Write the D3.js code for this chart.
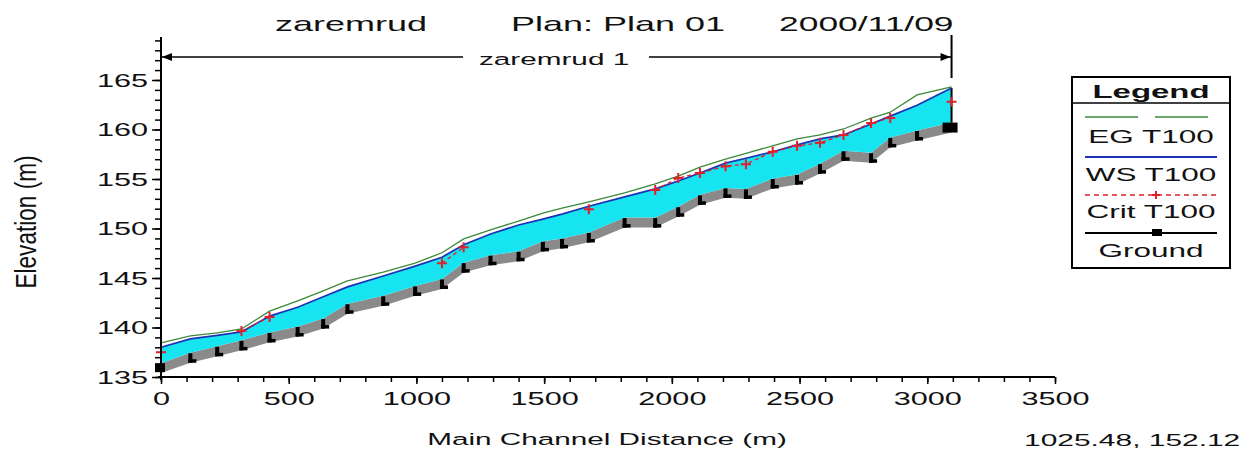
<!DOCTYPE html>
<html><head><meta charset="utf-8">
<script src="https://cdn.jsdelivr.net/npm/d3@7"></script>
<style>html,body{margin:0;padding:0;background:#fff;} svg{display:block;background:#fff;}</style>
</head><body>
<svg id="chart" width="1252" height="451"></svg>
<script>
// ---------- data ----------
const stations = [0,115,220,315,425,535,635,730,870,995,1100,1185,1290,1400,1495,1570,1675,1815,1935,2025,2110,2210,2290,2395,2490,2580,2672,2780,2855,2960,3095];
const ground   = [136.4,137.45,138.1,138.7,139.5,140.1,140.9,142.4,143.2,144.2,144.9,146.55,147.3,147.7,148.7,149.0,149.6,151.1,151.1,152.2,153.4,154.1,154.0,155.05,155.45,156.55,157.85,157.65,159.2,159.9,160.7];
const wsT100   = [138.0,138.85,139.2,139.55,141.15,142.05,143.1,144.1,145.2,146.2,147.1,148.35,149.45,150.35,150.95,151.45,152.25,153.2,154.0,154.8,155.6,156.6,157.1,157.75,158.45,159.05,159.45,160.55,161.35,162.45,164.2];
const egT100   = [138.45,139.15,139.45,139.85,141.65,142.7,143.7,144.7,145.6,146.5,147.55,148.95,149.85,150.75,151.55,152.05,152.7,153.6,154.5,155.3,156.2,157.0,157.6,158.35,159.05,159.45,160.05,161.15,161.75,163.5,164.3];
const critT100 = [137.5,null,null,139.65,141.05,null,null,null,null,null,146.5,148.1,null,null,null,null,151.95,null,153.9,155.1,155.6,156.3,156.5,157.75,158.35,158.65,159.45,160.65,161.15,null,162.8];

const xTickValues = [0,500,1000,1500,2000,2500,3000,3500];
const yTickValues = [135,140,145,150,155,160,165];
const titleParts = ["zaremrud", "Plan: Plan 01", "2000/11/09"];
const reachName = "zaremrud 1";
const legendTitle = "Legend";
const legendLabels = ["EG  T100", "WS  T100", "Crit  T100", "Ground"];
const xLabel = "Main Channel Distance (m)";
const yLabel = "Elevation (m)";
const cursorReadout = "1025.48, 152.12";

// ---------- setup ----------
const svg = d3.select("#chart");
const FONT = "'Liberation Sans', Arial, Helvetica, sans-serif";
const x = d3.scaleLinear().domain([0, 3500]).range([161, 1055]);
const y = d3.scaleLinear().domain([135, 165]).range([377, 80]);
const yTop = 37;

const COL = { water: "#16e4f0", band: "#8a8a8a", eg: "#3a8a3a", ws: "#1c34b4", crit: "#e0202a" };

function stext(parent, str, px, py, o = {}) {
  return parent.append("text")
    .attr("transform", `translate(${px},${py}) scale(${o.sx || 1.8},${o.sy || 1})`)
    .attr("text-anchor", o.anchor || "start")
    .attr("font-family", FONT)
    .attr("font-size", o.size || 17)
    .attr("font-weight", o.weight || "normal")
    .attr("fill", "#111")
    .text(str);
}

const data = stations.map((s, i) => ({ s, g: ground[i], ws: wsT100[i], eg: egT100[i], c: critT100[i] }));

// ---------- plot marks ----------
const plot = svg.append("g");

// gray ground band
plot.append("path").datum(data)
  .attr("d", d3.area().x(d => x(d.s)).y0(d => y(d.g - 1.0)).y1(d => y(d.g)))
  .attr("fill", COL.band);

// water
plot.append("path").datum(data)
  .attr("d", d3.area().x(d => x(d.s)).y0(d => y(d.g)).y1(d => y(d.ws)))
  .attr("fill", COL.water);

// ground station marks ("L" shapes)
const inner = data.slice(1, -1);
plot.selectAll("rect.gm1").data(inner).join("rect")
  .attr("x", d => x(d.s) - 2).attr("y", d => y(d.g) + 0.5)
  .attr("width", 4).attr("height", 9.5).attr("fill", "#000");
plot.selectAll("rect.gm2").data(inner).join("rect")
  .attr("x", d => x(d.s) - 2).attr("y", d => y(d.g) + 6.5)
  .attr("width", 8).attr("height", 3.5).attr("fill", "#000");

// end squares
const first = data[0], last = data[data.length - 1];
plot.append("rect").attr("x", x(first.s) - 6).attr("y", y(first.g)).attr("width", 10).attr("height", 9).attr("fill", "#000");
plot.append("rect").attr("x", x(last.s) - 9).attr("y", y(last.g)).attr("width", 15).attr("height", 10).attr("fill", "#000");
// end cross-section line at upstream end
plot.append("line").attr("x1", x(last.s)).attr("x2", x(last.s))
  .attr("y1", y(last.ws)).attr("y2", y(last.g)).attr("stroke", "#000").attr("stroke-width", 2);

// EG line
plot.append("path").datum(data)
  .attr("d", d3.line().x(d => x(d.s)).y(d => y(d.eg)))
  .attr("fill", "none").attr("stroke", COL.eg).attr("stroke-width", 1.3);

// WS line
plot.append("path").datum(data)
  .attr("d", d3.line().x(d => x(d.s)).y(d => y(d.ws)))
  .attr("fill", "none").attr("stroke", COL.ws).attr("stroke-width", 1.7);

// Crit line
plot.append("path").datum(data)
  .attr("d", d3.line().defined(d => d.c != null).x(d => x(d.s)).y(d => y(d.c)))
  .attr("fill", "none").attr("stroke", COL.crit).attr("stroke-width", 1.3).attr("stroke-dasharray", "4,3");
const critPts = data.filter(d => d.c != null);
plot.selectAll("path.cross").data(critPts).join("path")
  .attr("d", d => `M${x(d.s) - 5},${y(d.c)}h10M${x(d.s)},${y(d.c) - 5}v10`)
  .attr("stroke", COL.crit).attr("stroke-width", 2).attr("fill", "none");

// ---------- axes ----------
const axes = svg.append("g");
const yMinor = d3.range(135, 170, 1);
const xMinor = d3.range(0, 3501, 100);

const gyMinor = axes.append("g").attr("transform", `translate(${x(0)},0)`)
  .call(d3.axisLeft(y).tickValues(yMinor).tickSize(6).tickFormat(""));
const gy = axes.append("g").attr("transform", `translate(${x(0)},0)`)
  .call(d3.axisLeft(y).tickValues(yTickValues).tickSize(9).tickFormat(d3.format("d")));
const gxMinor = axes.append("g").attr("transform", `translate(0,${y(135)})`)
  .call(d3.axisBottom(x).tickValues(xMinor).tickSize(5).tickFormat(""));
const gx = axes.append("g").attr("transform", `translate(0,${y(135)})`)
  .call(d3.axisBottom(x).tickValues(xTickValues).tickSize(7).tickFormat(d3.format("d")));

[gyMinor, gy, gxMinor, gx].forEach(g => {
  g.select(".domain").remove();
  g.selectAll(".tick line").attr("stroke", "#000").attr("stroke-width", 1.5);
});
gy.selectAll(".tick text")
  .attr("x", null).attr("dy", null)
  .attr("transform", "translate(-13,6) scale(1.75,1)")
  .attr("text-anchor", "end")
  .attr("font-family", FONT).attr("font-size", 17.5).attr("fill", "#111");
gx.selectAll(".tick text")
  .attr("y", null).attr("dy", null)
  .attr("transform", "translate(0,28) scale(1.75,1)")
  .attr("text-anchor", "middle")
  .attr("font-family", FONT).attr("font-size", 17.5).attr("fill", "#111");

// axis lines
axes.append("line").attr("x1", x(0)).attr("x2", x(0)).attr("y1", yTop).attr("y2", y(135) + 3)
  .attr("stroke", "#000").attr("stroke-width", 2);
axes.append("line").attr("x1", x(0) - 3).attr("x2", x(3500)).attr("y1", y(135)).attr("y2", y(135))
  .attr("stroke", "#000").attr("stroke-width", 2);

// ---------- reach arrow ----------
const ra = svg.append("g");
const ay = 57, xa = x(first.s), xb = x(last.s);
ra.append("line").attr("x1", xb).attr("x2", xb).attr("y1", 35).attr("y2", 78).attr("stroke", "#000").attr("stroke-width", 2);
ra.append("line").attr("x1", xa).attr("x2", 463).attr("y1", ay).attr("y2", ay).attr("stroke", "#000").attr("stroke-width", 1.5);
ra.append("line").attr("x1", 649).attr("x2", xb).attr("y1", ay).attr("y2", ay).attr("stroke", "#000").attr("stroke-width", 1.5);
ra.append("path").attr("d", `M${xa + 1},${ay}L${xa + 11},${ay - 4}L${xa + 11},${ay + 4}Z`).attr("fill", "#000");
ra.append("path").attr("d", `M${xb - 1},${ay}L${xb - 11},${ay - 4}L${xb - 11},${ay + 4}Z`).attr("fill", "#000");
stext(ra, reachName, 479, 65, { size: 16.5, sx: 1.8 });

// ---------- title ----------
stext(svg, titleParts[0], 275, 31, { size: 20, sx: 1.8 });
stext(svg, titleParts[1], 511, 31, { size: 20, sx: 1.8 });
stext(svg, titleParts[2], 779, 31, { size: 20, sx: 1.77 });

// ---------- axis titles & readout ----------
stext(svg, xLabel, 607, 445, { size: 16.5, sx: 1.8, anchor: "middle" });
stext(svg, cursorReadout, 1024, 446, { size: 17, sx: 1.76 });
svg.append("text")
  .attr("transform", "translate(36,222) rotate(-90) scale(1.33,1.78)")
  .attr("text-anchor", "middle").attr("font-family", FONT).attr("font-size", 17).attr("fill", "#111")
  .text(yLabel);

// ---------- legend ----------
const lg = svg.append("g");
const L = { x0: 1072, x1: 1230, y0: 77, y1: 268 };
lg.append("rect").attr("x", L.x0).attr("y", L.y0).attr("width", L.x1 - L.x0).attr("height", L.y1 - L.y0)
  .attr("fill", "#fff").attr("stroke", "#000").attr("stroke-width", 2);
lg.append("line").attr("x1", L.x0).attr("x2", L.x1).attr("y1", 103).attr("y2", 103).attr("stroke", "#000").attr("stroke-width", 1.5);
stext(lg, legendTitle, 1151, 98, { size: 18, sx: 1.83, weight: "bold", anchor: "middle" });

const lx0 = 1085, lx1 = 1217, lcx = 1151;
// EG
lg.append("line").attr("x1", lx0).attr("x2", 1208).attr("y1", 117).attr("y2", 117)
  .attr("stroke", COL.eg).attr("stroke-width", 1.6).attr("stroke-dasharray", "53,17");
stext(lg, legendLabels[0], lcx, 143, { size: 17.5, sx: 1.8, anchor: "middle" });
// WS
lg.append("line").attr("x1", lx0).attr("x2", lx1).attr("y1", 157).attr("y2", 157)
  .attr("stroke", COL.ws).attr("stroke-width", 1.8);
stext(lg, legendLabels[1], lcx, 181, { size: 17.5, sx: 1.8, anchor: "middle" });
// Crit
lg.append("line").attr("x1", lx0).attr("x2", lx1).attr("y1", 195).attr("y2", 195)
  .attr("stroke", COL.crit).attr("stroke-width", 1.4).attr("stroke-dasharray", "5,4");
lg.append("path").attr("d", `M${lcx + 5},${191}v8M${lcx + 1},195h8`).attr("stroke", COL.crit).attr("stroke-width", 2);
stext(lg, legendLabels[2], lcx, 218, { size: 17.5, sx: 1.8, anchor: "middle" });
// Ground
lg.append("line").attr("x1", lx0).attr("x2", lx1).attr("y1", 233).attr("y2", 233)
  .attr("stroke", "#000").attr("stroke-width", 1.8);
lg.append("rect").attr("x", lcx + 1).attr("y", 229).attr("width", 10).attr("height", 7).attr("fill", "#000");
stext(lg, legendLabels[3], lcx, 257, { size: 17.5, sx: 1.8, anchor: "middle" });
</script>
</body></html>
